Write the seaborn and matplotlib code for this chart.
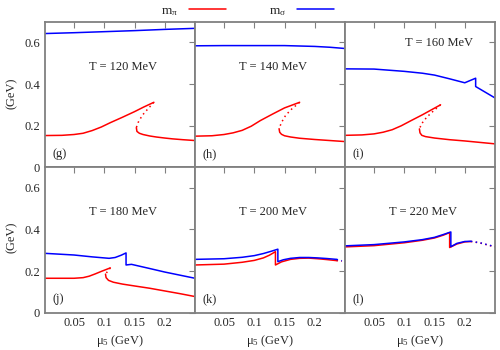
"""Meson masses vs chiral chemical potential, six temperature panels."""

import pandas as pd
import matplotlib.pyplot as plt
import seaborn as sns
from matplotlib.lines import Line2D

sns.set_style("white")
plt.rcParams.update({
    'font.family': ['Liberation Serif', 'DejaVu Serif'],
    'mathtext.fontset': 'custom',
    'mathtext.rm': 'Liberation Serif',
    'mathtext.it': 'Liberation Serif:italic',
    'font.size': 9,
    'xtick.labelsize': 9,
    'ytick.labelsize': 9,
    'xtick.direction': 'in',
    'ytick.direction': 'in',
    'xtick.top': True,
    'ytick.right': True,
})

RED = '#ff0000'
BLUE = '#0000ff'

# ---- T = 120 MeV (g)
g_sig_x = [0.002, 0.05, 0.1, 0.15, 0.2, 0.25]
g_sig_y = [0.643, 0.647, 0.652, 0.657, 0.663, 0.668]
g_pi_x = [0.002, 0.03, 0.05, 0.065, 0.08, 0.095, 0.11, 0.13, 0.15, 0.165, 0.182]
g_pi_y = [0.152, 0.153, 0.157, 0.163, 0.176, 0.193, 0.214, 0.240, 0.267, 0.289, 0.312]
g_pidot_x = [0.182, 0.172, 0.163, 0.156, 0.153]
g_pidot_y = [0.312, 0.280, 0.250, 0.215, 0.190]
g_pilow_x = [0.153, 0.154, 0.158, 0.164, 0.175, 0.186, 0.2, 0.213, 0.23, 0.25]
g_pilow_y = [0.190, 0.172, 0.163, 0.157, 0.150, 0.145, 0.140, 0.136, 0.132, 0.128]

# ---- T = 140 MeV (h)
h_sig_x = [0.002, 0.05, 0.1, 0.15, 0.2, 0.225, 0.25]
h_sig_y = [0.584, 0.585, 0.585, 0.585, 0.581, 0.577, 0.571]
h_pi_x = [0.002, 0.03, 0.05, 0.065, 0.08, 0.095, 0.11, 0.13, 0.15, 0.175]
h_pi_y = [0.149, 0.151, 0.157, 0.165, 0.177, 0.197, 0.224, 0.255, 0.285, 0.312]
h_pidot_x = [0.175, 0.162, 0.152, 0.145, 0.141]
h_pidot_y = [0.312, 0.280, 0.250, 0.215, 0.185]
h_pilow_x = [0.141, 0.142, 0.145, 0.15, 0.16, 0.175, 0.2, 0.225, 0.25]
h_pilow_y = [0.185, 0.168, 0.158, 0.151, 0.145, 0.139, 0.133, 0.128, 0.123]

# ---- T = 160 MeV (i)
i_sig_x = [0.002, 0.05, 0.1, 0.13, 0.15, 0.175, 0.2, 0.218, 0.218, 0.25]
i_sig_y = [0.473, 0.472, 0.461, 0.452, 0.443, 0.425, 0.406, 0.428, 0.388, 0.333]
i_pi_x = [0.002, 0.03, 0.05, 0.065, 0.08, 0.095, 0.11, 0.13, 0.145, 0.16]
i_pi_y = [0.153, 0.155, 0.160, 0.168, 0.180, 0.199, 0.222, 0.252, 0.276, 0.300]
i_pidot_x = [0.16, 0.148, 0.137, 0.129, 0.125]
i_pidot_y = [0.300, 0.270, 0.240, 0.210, 0.184]
i_pilow_x = [0.125, 0.126, 0.129, 0.135, 0.15, 0.175, 0.2, 0.225, 0.25]
i_pilow_y = [0.184, 0.165, 0.153, 0.147, 0.140, 0.132, 0.126, 0.119, 0.112]

# ---- T = 180 MeV (j)
j_sig_x = [0.002, 0.05, 0.08, 0.108, 0.118, 0.128, 0.136, 0.136, 0.145, 0.175, 0.2, 0.225, 0.25]
j_sig_y = [0.285, 0.277, 0.268, 0.261, 0.265, 0.276, 0.287, 0.229, 0.232, 0.212, 0.195, 0.180, 0.165]
j_pi_x = [0.002, 0.05, 0.065, 0.075, 0.085, 0.095, 0.103, 0.11]
j_pi_y = [0.165, 0.165, 0.168, 0.175, 0.186, 0.198, 0.207, 0.215]
j_pidot_x = [0.11, 0.106, 0.102]
j_pidot_y = [0.215, 0.200, 0.185]
j_pilow_x = [0.102, 0.103, 0.107, 0.115, 0.13, 0.15, 0.175, 0.2, 0.225, 0.25]
j_pilow_y = [0.185, 0.168, 0.155, 0.146, 0.137, 0.128, 0.117, 0.104, 0.091, 0.077]

# ---- T = 200 MeV (k)
k_sig_x = [0.002, 0.05, 0.08, 0.1, 0.115, 0.128, 0.139, 0.139, 0.148, 0.16, 0.175, 0.19, 0.205, 0.22, 0.236]
k_sig_y = [0.256, 0.259, 0.266, 0.274, 0.284, 0.295, 0.305, 0.245, 0.254, 0.261, 0.265, 0.265, 0.263, 0.260, 0.256]
k_sigdot_x = [0.236, 0.245]
k_sigdot_y = [0.256, 0.249]
k_pi_x = [0.002, 0.05, 0.08, 0.1, 0.115, 0.125, 0.135, 0.135, 0.145, 0.16, 0.175, 0.19, 0.205, 0.22, 0.236]
k_pi_y = [0.229, 0.233, 0.242, 0.251, 0.263, 0.276, 0.293, 0.229, 0.244, 0.256, 0.261, 0.262, 0.259, 0.255, 0.250]
k_pidot_x = [0.236, 0.245]
k_pidot_y = [0.250, 0.247]

# ---- T = 220 MeV (l)
l_sig_x = [0.002, 0.05, 0.1, 0.13, 0.15, 0.165, 0.177, 0.177, 0.187, 0.2, 0.21]
l_sig_y = [0.321, 0.327, 0.340, 0.351, 0.362, 0.376, 0.388, 0.317, 0.333, 0.342, 0.343]
l_sigdot_x = [0.21, 0.225, 0.25]
l_sigdot_y = [0.343, 0.336, 0.317]
l_pi_x = [0.002, 0.05, 0.1, 0.13, 0.15, 0.165, 0.175, 0.175, 0.187, 0.2, 0.21]
l_pi_y = [0.316, 0.322, 0.336, 0.348, 0.359, 0.373, 0.385, 0.313, 0.330, 0.340, 0.342]
l_pidot_x = [0.21, 0.225, 0.25]
l_pidot_y = [0.342, 0.335, 0.316]

temps = ['T = 120 MeV', 'T = 140 MeV', 'T = 160 MeV',
         'T = 180 MeV', 'T = 200 MeV', 'T = 220 MeV']
tags = ['(g)', '(h)', '(i)', '(j)', '(k)', '(l)']
x_ticks = [0.05, 0.1, 0.15, 0.2]
y_ticks = [0, 0.2, 0.4, 0.6]

DOT = (0, (1, 2.2))
# (x, y, colour, dotted?) in drawing order: pion first, sigma on top
segments = [
    [(g_pi_x, g_pi_y, RED, False), (g_pidot_x, g_pidot_y, RED, True),
     (g_pilow_x, g_pilow_y, RED, False), (g_sig_x, g_sig_y, BLUE, False)],
    [(h_pi_x, h_pi_y, RED, False), (h_pidot_x, h_pidot_y, RED, True),
     (h_pilow_x, h_pilow_y, RED, False), (h_sig_x, h_sig_y, BLUE, False)],
    [(i_pi_x, i_pi_y, RED, False), (i_pidot_x, i_pidot_y, RED, True),
     (i_pilow_x, i_pilow_y, RED, False), (i_sig_x, i_sig_y, BLUE, False)],
    [(j_pi_x, j_pi_y, RED, False), (j_pidot_x, j_pidot_y, RED, True),
     (j_pilow_x, j_pilow_y, RED, False), (j_sig_x, j_sig_y, BLUE, False)],
    [(k_pi_x, k_pi_y, RED, False), (k_pidot_x, k_pidot_y, RED, True),
     (k_sig_x, k_sig_y, BLUE, False), (k_sigdot_x, k_sigdot_y, BLUE, True)],
    [(l_pi_x, l_pi_y, RED, False), (l_pidot_x, l_pidot_y, RED, True),
     (l_sig_x, l_sig_y, BLUE, False), (l_sigdot_x, l_sigdot_y, BLUE, True)],
]
title_pos = [(0.52, 0.69), (0.52, 0.69), (0.625, 0.856),
             (0.52, 0.69), (0.52, 0.69), (0.52, 0.69)]

fig, axes = plt.subplots(2, 3, figsize=(5, 3.5), dpi=100, sharex=True, sharey=True)
fig.subplots_adjust(left=0.09, right=0.99, top=0.938, bottom=0.107,
                    wspace=0, hspace=0)

for idx, ax in enumerate(axes.flat):
    row, col = divmod(idx, 3)
    for xs, ys, c, dotted in segments[idx]:
        seg = pd.DataFrame({'mu5': xs, 'mass': ys})
        sns.lineplot(data=seg, x='mu5', y='mass', ax=ax, color=c,
                     sort=False, estimator=None, lw=1.1,
                     linestyle=DOT if dotted else '-')
    ax.set_xlim(0.002, 0.25)
    ax.set_ylim(0, 0.7)
    ax.set_xticks(x_ticks)
    ax.set_yticks(y_ticks)
    ax.set_xticklabels(['0.05', '0.1', '0.15', '0.2'])
    ax.set_yticklabels(['0', '0.2', '0.4', '0.6'])
    ax.tick_params(which='both', length=4, width=0.8, color='#808080',
                   top=True, right=True, labelleft=(col == 0),
                   labelbottom=(row == 1))
    for sp in ax.spines.values():
        sp.set_color('#808080')
        sp.set_linewidth(1.3)
    ax.set_ylabel('')
    ax.set_xlabel('μ$_5$ (GeV)' if row == 1 else '', labelpad=2.5)
    tx, ty = title_pos[idx]
    ax.text(tx, ty, temps[idx], transform=ax.transAxes,
            ha='center', va='center', fontsize=9)
    ax.text(0.05, 0.05, tags[idx], transform=ax.transAxes,
            ha='left', va='bottom', fontsize=9)

fig.text(0.024, 0.734, '(GeV)', rotation=90, ha='center', va='center')
fig.text(0.024, 0.322, '(GeV)', rotation=90, ha='center', va='center')

handles = [Line2D([], [], color=RED, lw=1.1), Line2D([], [], color=BLUE, lw=1.1)]
fig.legend(handles, ['m$_{\\mathrm{π}}$', 'm$_{\\mathrm{σ}}$'], ncol=2,
           markerfirst=False, frameon=False, loc='center',
           bbox_to_anchor=(0.495, 0.968), handlelength=2.8,
           handletextpad=0.8, columnspacing=3.3, fontsize=9.5,
           borderaxespad=0, borderpad=0)

plt.savefig('out.png', dpi=100)
plt.close()
